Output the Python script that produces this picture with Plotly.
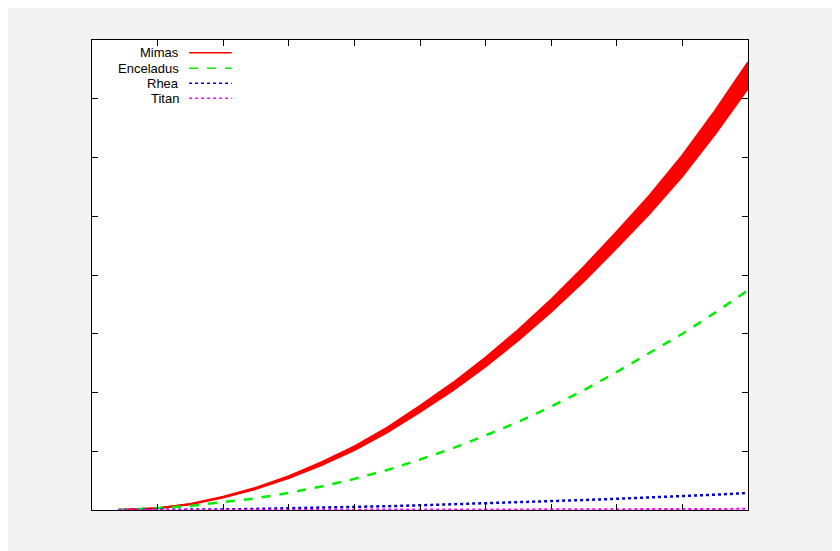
import plotly.graph_objects as go

x = [0.4, 0.5, 1, 1.5, 2, 2.5, 3, 3.5, 4, 4.5, 5, 5.5, 6, 6.5, 7, 7.5, 8, 8.5, 9, 9.5, 10]
mimas = [0, 0.005, 0.03, 0.1, 0.22, 0.37, 0.56, 0.79, 1.05, 1.36, 1.72, 2.1, 2.52, 2.98, 3.48, 4.02, 4.6, 5.2, 5.86, 6.6, 7.4]
enceladus = [0, 0.003, 0.03, 0.07, 0.13, 0.2, 0.29, 0.4, 0.53, 0.68, 0.86, 1.05, 1.27, 1.5, 1.76, 2.04, 2.35, 2.67, 3.0, 3.36, 3.74]
rhea = [0, 0, 0.001, 0.004, 0.01, 0.018, 0.027, 0.038, 0.05, 0.065, 0.08, 0.096, 0.113, 0.131, 0.15, 0.17, 0.19, 0.21, 0.235, 0.26, 0.29]
titan = [0, 0, 0, 0.001, 0.001, 0.002, 0.003, 0.004, 0.005, 0.006, 0.007, 0.008, 0.009, 0.01, 0.011, 0.012, 0.014, 0.015, 0.017, 0.018, 0.02]
names = ["Mimas", "Enceladus", "Rhea", "Titan"]
colors = ["#ff0000", "#00ee00", "#0000cc", "#ff00ff"]
dashes = ["solid", "dash", "dot", "dot"]

fig = go.Figure()
up = [v * 1.03 for v in mimas]
lo = [v * 0.97 for v in mimas]
fig.add_trace(go.Scatter(x=x, y=lo, mode="lines", line=dict(color="red", width=2), showlegend=False))
fig.add_trace(go.Scatter(x=x, y=up, mode="lines", line=dict(color="red", width=2), fill="tonexty", fillcolor="red", showlegend=False))
for ys, c, d, w in [(enceladus, colors[1], "dash", 2.5), (rhea, colors[2], "dot", 2.5), (titan, colors[3], "dot", 2)]:
    fig.add_trace(go.Scatter(x=x, y=ys, mode="lines", line=dict(color=c, dash=d, width=w), showlegend=False))

# legend (gnuplot style)
ys_leg = [0.973, 0.94, 0.908, 0.876]
for n, c, d, yy in zip(names, colors, dashes, ys_leg):
    fig.add_annotation(x=0.135, y=yy, xref="paper", yref="paper", text=n, showarrow=False,
                       xanchor="right", yanchor="middle",
                       font=dict(family="Liberation Sans", size=13, color="black"))
    fig.add_shape(type="line", xref="paper", yref="paper", x0=0.148, x1=0.213, y0=yy, y1=yy,
                  line=dict(color=c, dash=d, width=1.5))

ax = dict(showgrid=False, zeroline=False, showline=True, linecolor="black", linewidth=1,
          mirror="ticks", ticks="inside", ticklen=6, tickcolor="black", showticklabels=False)
fig.update_layout(width=840, height=551, margin=dict(l=84, r=100, t=32, b=49),
                  paper_bgcolor="#f3f3f3", plot_bgcolor="white", showlegend=False,
                  xaxis=dict(range=[0, 10], dtick=1, **ax),
                  yaxis=dict(range=[0, 8], dtick=1, **ax))
fig.write_html("out.html")
